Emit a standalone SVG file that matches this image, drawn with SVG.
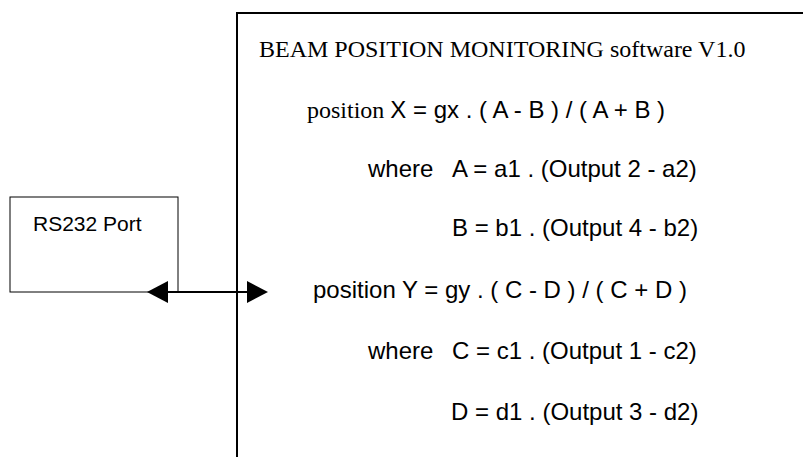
<svg xmlns="http://www.w3.org/2000/svg" width="803" height="457" viewBox="0 0 803 457">
<style>
.box{fill:#fff;stroke:#000;}
.ar{font-family:"Liberation Sans",Arial,sans-serif;font-size:24px;fill:#000;}
.tm{font-family:"Liberation Serif","Times New Roman",serif;font-size:24px;fill:#000;}
.conn{stroke:#000;stroke-width:2;fill:none;}
</style>
<defs>
<marker id="ah" viewBox="0 0 21 22" refX="19" refY="11" markerWidth="21" markerHeight="22" markerUnits="userSpaceOnUse" orient="auto-start-reverse">
<path d="M0,0 L21,11 L0,22 Z" fill="#000"/>
</marker>
</defs>
<g id="software">
<rect class="box" x="237" y="13" width="600" height="460" stroke-width="2"/>
<text class="tm" x="259" y="57">BEAM POSITION MONITORING software V1.0</text>
<text x="307" y="118"><tspan class="tm">position </tspan><tspan class="ar">X = gx . ( A - B ) / ( A + B )</tspan></text>
<text class="ar" y="177"><tspan x="368">where</tspan><tspan x="452">A = a1 . (Output 2 - a2)</tspan></text>
<text class="ar" x="452" y="236">B = b1 . (Output 4 - b2)</text>
<text class="ar" x="313" y="298">position Y = gy . ( C - D ) / ( C + D )</text>
<text class="ar" y="359"><tspan x="368">where</tspan><tspan x="452">C = c1 . (Output 1 - c2)</tspan></text>
<text class="ar" x="451" y="420">D = d1 . (Output 3 - d2)</text>
</g>
<g id="rs232">
<rect class="box" x="10" y="197" width="168" height="95" stroke-width="1"/>
<text class="ar" x="33" y="231" style="font-size:21px">RS232 Port</text>
</g>
<g id="connectors">
<line class="conn" x1="149" y1="292" x2="266" y2="292" marker-start="url(#ah)" marker-end="url(#ah)"/>
</g>
</svg>
